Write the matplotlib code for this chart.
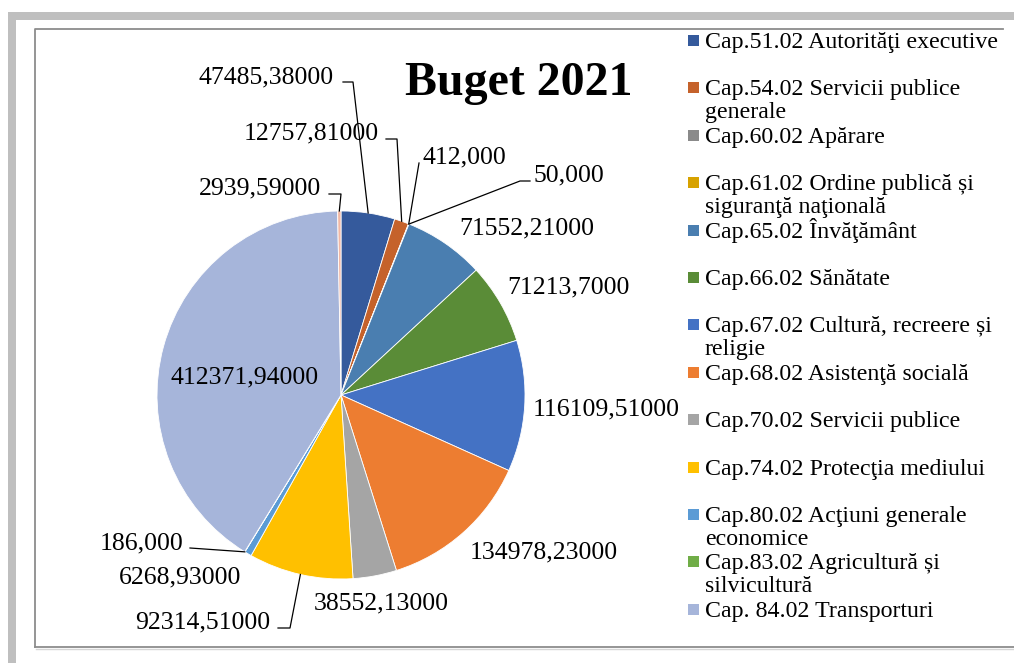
import numpy as np
import matplotlib.pyplot as plt
from matplotlib.patches import Rectangle

plt.rcParams['font.family'] = ['Liberation Serif', 'DejaVu Serif']

# chapters (legend shows the first 13, the last slice has no legend entry)
categories = [
    "Cap.51.02 Autorităţi executive",
    "Cap.54.02 Servicii publice\ngenerale",
    "Cap.60.02 Apărare",
    "Cap.61.02 Ordine publică și\nsiguranţă naţională",
    "Cap.65.02 Învăţământ",
    "Cap.66.02 Sănătate",
    "Cap.67.02 Cultură, recreere și\nreligie",
    "Cap.68.02 Asistenţă socială",
    "Cap.70.02 Servicii publice",
    "Cap.74.02 Protecţia mediului",
    "Cap.80.02 Acţiuni generale\neconomice",
    "Cap.83.02 Agricultură și\nsilvicultură",
    "Cap. 84.02 Transporturi",
]
values = [47485.38, 12757.81, 412.0, 50.0, 71552.21, 71213.7, 116109.51,
          134978.23, 38552.13, 92314.51, 6268.93, 186.0, 412371.94, 2939.59]
value_labels = ["47485,38000", "12757,81000", "412,000", "50,000", "71552,21000",
                "71213,7000", "116109,51000", "134978,23000", "38552,13000",
                "92314,51000", "6268,93000", "186,000", "412371,94000", "2939,59000"]
colors = ["#355A9C", "#C5622B", "#8A8A8A", "#D7A200", "#4A7EB0", "#5A8C37",
          "#4472C4", "#ED7D31", "#A5A5A5", "#FFC000", "#5B9BD5", "#70AD47",
          "#A6B5DA", "#F2B8A4"]

# layout (pixel coordinates, y downwards)
CX, CY, R = 341, 395, 184
label_pos = [(266, 83), (311, 139), (464, 163), (569, 181), (527, 234),
             (568, 293), (606, 415), (544, 558), (381, 609), (203, 628),
             (180, 583), (142, 549), (245, 383), (260, 194)]
leaders = {0: [(343, 82), (353, 82)], 1: [(386, 139), (397, 139)],
           2: [(419, 163)], 3: [(530, 181), (520, 181)],
           9: [(278, 628), (290, 628)], 11: [(190, 548)],
           13: [(329, 194), (341, 194)]}

fig = plt.figure(figsize=(10.14, 6.63), dpi=100)
ax = fig.add_axes([0, 0, 1, 1])

ax.pie(values, colors=colors, startangle=-90, counterclock=True,
       center=(CX, CY), radius=R,
       wedgeprops=dict(edgecolor='white', linewidth=0.6))
ax.set_xlim(0, 1014)
ax.set_ylim(663, 0)
ax.set_aspect('equal')
ax.axis('off')

# frame
ax.add_patch(Rectangle((8, 12), 1006, 8, color="#BFBFBF", lw=0))
ax.add_patch(Rectangle((8, 12), 8, 651, color="#BFBFBF", lw=0))
ax.plot([35, 35, 1003], [647, 29, 29], color="#8C8C8C", lw=1.3)
ax.plot([35, 1014], [647, 647], color="#8C8C8C", lw=1.3)
ax.plot([36, 1014], [649, 649], color="#D6D6D6", lw=1.0)

# data labels
fracs = np.array(values) / np.sum(values)
mids = np.cumsum(fracs) - fracs / 2
for i, txt in enumerate(value_labels):
    x, y = label_pos[i]
    ax.text(x, y, txt, ha='center', va='baseline', fontsize=18.5)
    if i in leaders:
        th = np.deg2rad(-90 + 360 * mids[i])
        pts = leaders[i] + [(CX + R * np.cos(th), CY + R * np.sin(th))]
        xs, ys = zip(*pts)
        ax.plot(xs, ys, color='black', lw=0.9)

ax.text(519, 95, "Buget 2021", ha='center', va='baseline', fontsize=34.5,
        fontweight='bold')

# legend
for i, name in enumerate(categories):
    base = 48 + 47.4 * i
    ax.add_patch(Rectangle((688, base - 13), 11, 11, color=colors[i], lw=0))
    for j, line in enumerate(name.split("\n")):
        ax.text(705, base + 23 * j, line, ha='left', va='baseline', fontsize=17.2)

fig.savefig("out.png", dpi=100)
